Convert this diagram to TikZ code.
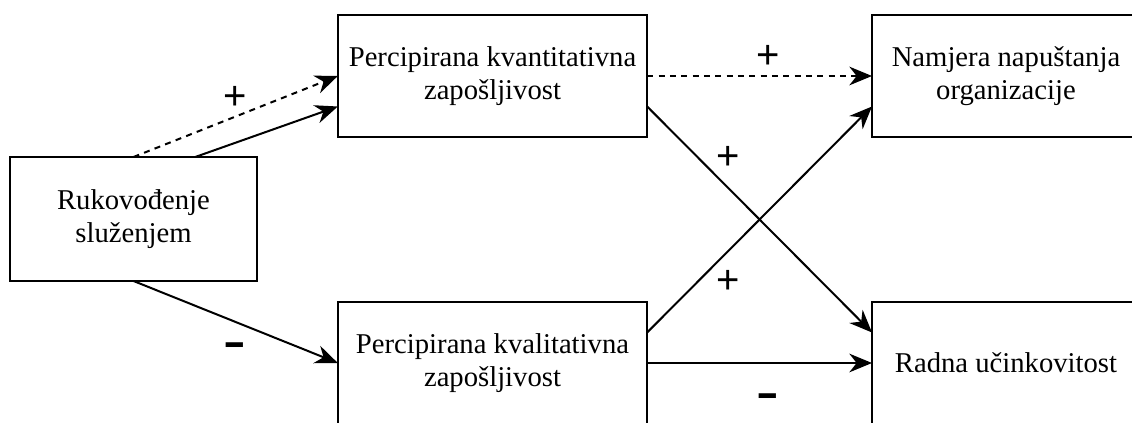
\documentclass[tikz,border=0pt]{standalone}
\usepackage{fontspec}
\setmainfont{Liberation Serif}
\newfontfamily\lblfont{Liberation Sans}
\usetikzlibrary{arrows.meta,calc}
\begin{document}
\begin{tikzpicture}[x=0.75pt,y=-0.75pt,
  box/.style={draw, line width=1.5pt, inner sep=0pt, outer sep=0pt, minimum height=91.5pt, align=center, font=\fontsize{21.5}{25}\selectfont},
  conn/.style={line width=1.5pt, -{Stealth[length=17pt,width=14pt,inset=5.5pt]}},
  dsh/.style={conn, dash pattern=on 4.5pt off 4pt},
  sign/.style={font=\lblfont\fontsize{30}{30}\selectfont, inner sep=0pt},
]
\clip (0,0) rectangle (1132,423);
% nodes
\node[box, minimum width=185.25pt, minimum height=93pt] (L) at (133.5,219) {Rukovođenje\\služenjem};
\node[box, minimum width=232pt] (QN) at (492.5,76) {Percipirana kvantitativna\\zapošljivost};
\node[box, minimum width=232pt] (QL) at (492.5,363) {Percipirana kvalitativna\\zapošljivost};
\node[box, minimum width=201pt] (NO) at (1006,76) {Namjera napuštanja\\organizacije};
\node[box, minimum width=201pt] (RU) at (1006,363) {Radna učinkovitost};
% connectors
\draw[dsh] (L.north) -- (QN.west);
\draw[conn] ($(L.north west)!0.75!(L.north east)$) -- ($(QN.north west)!0.75!(QN.south west)$);
\draw[conn] (L.south) -- (QL.west);
\draw[dsh] (QN.east) -- (NO.west);
\draw[conn] ($(QN.north east)!0.75!(QN.south east)$) -- ($(RU.north west)!0.25!(RU.south west)$);
\draw[conn] ($(QL.north east)!0.25!(QL.south east)$) -- ($(NO.north west)!0.75!(NO.south west)$);
\draw[conn] (QL.east) -- (RU.west);
% labels
\node[sign] (s1) at (235,98) {+};
\node[sign] (s2) at (768,57) {+};
\node[sign] (s3) at (728,158) {+};
\node[sign] (s4) at (728,282) {+};
\node[sign] (s5) at (235,349) {\scalebox{1.7}[1]{\bfseries -}};
\node[sign] (s6) at (768,400) {\scalebox{1.7}[1]{\bfseries -}};
\end{tikzpicture}
\end{document}
